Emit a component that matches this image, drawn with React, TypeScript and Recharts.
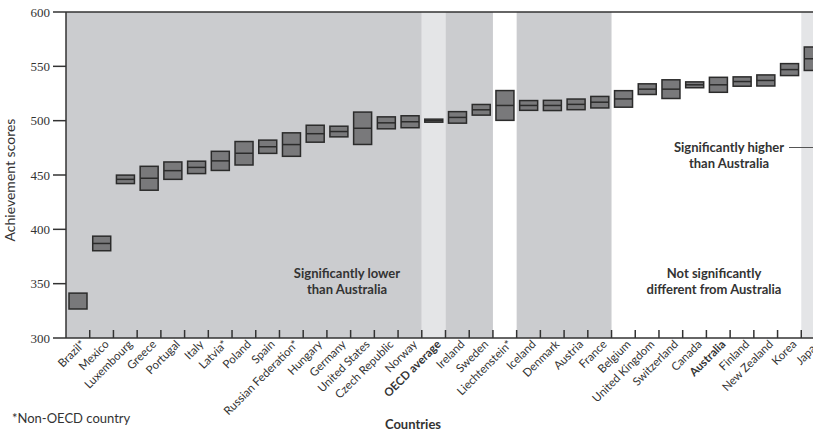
import { ComposedChart, Bar, XAxis, YAxis, ReferenceArea, ReferenceLine } from "recharts";

const countries = [
  "Brazil*", "Mexico", "Luxembourg", "Greece", "Portugal", "Italy", "Latvia*", "Poland",
  "Spain", "Russian Federation*", "Hungary", "Germany", "United States", "Czech Republic",
  "Norway", "OECD average", "Ireland", "Sweden", "Liechtenstein*", "Iceland", "Denmark",
  "Austria", "France", "Belgium", "United Kingdom", "Switzerland", "Canada", "Australia",
  "Finland", "New Zealand", "Korea", "Japan",
];

// mean line (none drawn for Brazil in the original)
const means: (number | null)[] = [
  null, 387, 446, 447, 454, 457, 463, 470, 476, 478, 488, 490, 493, 498, 499, 500,
  503, 510, 514, 514, 514, 515, 517, 520, 529, 529, 533, 533, 536, 537, 547, 557,
];

const lowerBounds = [
  326.7, 380.3, 442.1, 436.0, 446.0, 451.3, 454.2, 459.2, 469.9, 467.2, 480.2, 485.1,
  478.1, 492.5, 493.5, 498.6, 497.7, 505.1, 500.3, 509.5, 509.3, 510.1, 511.7, 512.4,
  524.1, 520.4, 530.3, 526.1, 531.7, 531.9, 541.5, 546.2,
];

const upperBounds = [
  341.3, 393.7, 449.9, 458.0, 462.0, 462.7, 471.8, 480.8, 482.1, 488.8, 495.8, 494.9,
  507.9, 503.5, 504.5, 501.4, 508.3, 514.9, 527.7, 518.5, 518.7, 519.9, 522.3, 527.6,
  533.9, 537.6, 535.7, 539.9, 540.3, 542.1, 552.5, 567.8,
];

const yTicks = [300, 350, 400, 450, 500, 550, 600];
const boldLabels = ["OECD average", "Australia"];

const DARK = "#cbcccf";
const LIGHT = "#e4e5e7";
const INK = "#333";

const shading = [
  { from: "Brazil*", to: "Norway", fill: DARK },
  { from: "OECD average", to: "OECD average", fill: LIGHT },
  { from: "Ireland", to: "Sweden", fill: DARK },
  { from: "Iceland", to: "France", fill: DARK },
  { from: "Japan", to: "Japan", fill: LIGHT },
];

const data = countries.map((c, i) => ({
  country: c,
  range: [lowerBounds[i], upperBounds[i]],
  mean: means[i],
  lo: lowerBounds[i],
  hi: upperBounds[i],
}));

const CHART_W = 825;
const CHART_H = 434;
const Y_W = 66;
const BAND = (CHART_W - Y_W) / countries.length;

function BoxShape(props: any) {
  const { x, y, width, height, payload } = props;
  const top = Math.min(y, y + height);
  const h = Math.abs(height);
  let meanY: number | null = null;
  if (payload.mean != null) {
    meanY = top + (h * (payload.hi - payload.mean)) / (payload.hi - payload.lo);
  }
  return (
    <g>
      <rect x={x} y={top} width={width} height={h} fill="#79797b" stroke="#2b2b2b" strokeWidth={1.5} />
      {meanY != null && (
        <line x1={x} x2={x + width} y1={meanY} y2={meanY} stroke="#2b2b2b" strokeWidth={1.5} />
      )}
    </g>
  );
}

function CountryTick(props: any) {
  const { x, y, payload, index } = props;
  const off = payload.offset || BAND / 2;
  const bold = boldLabels.includes(payload.value);
  return (
    <g>
      {index > 0 && (
        <line x1={x - off} x2={x - off} y1={y} y2={y - 8} stroke={INK} strokeWidth={1.5} />
      )}
      <text
        transform={`translate(${x + 8},${y + 7}) rotate(-45)`}
        textAnchor="end"
        fontSize={11.5}
        fontFamily="Lato"
        fontWeight={bold ? 700 : 400}
        fill={INK}
      >
        {payload.value}
      </text>
    </g>
  );
}

const note = {
  position: "absolute" as const,
  fontFamily: "Lato",
  color: INK,
  textAlign: "center" as const,
  fontSize: 13,
  fontWeight: 700,
  lineHeight: "16px",
  whiteSpace: "nowrap" as const,
};

export default function App() {
  return (
    <div style={{ position: "fixed", left: 0, top: 0, width: 813, height: 434, overflow: "hidden", background: "#fff" }}>
      <ComposedChart
        width={CHART_W}
        height={CHART_H}
        data={data}
        margin={{ top: 12, right: 0, left: 0, bottom: 0 }}
      >
        {shading.map((s) => (
          <ReferenceArea key={s.from} x1={s.from} x2={s.to} y1={300} y2={600} fill={s.fill} fillOpacity={1} stroke="none" />
        ))}
        <XAxis
          dataKey="country"
          interval={0}
          height={96}
          tickLine={false}
          tickSize={0}
          tickMargin={0}
          axisLine={{ stroke: INK, strokeWidth: 1.5 }}
          tick={<CountryTick />}
        />
        <YAxis
          type="number"
          domain={[300, 600]}
          ticks={yTicks}
          width={Y_W}
          tickSize={13}
          tickMargin={3}
          axisLine={{ stroke: INK, strokeWidth: 1.5 }}
          tickLine={{ stroke: INK, strokeWidth: 1.5 }}
          tick={{ fontSize: 13, fontFamily: "Liberation Serif", fill: INK }}
        />
        <ReferenceLine y={600} stroke={INK} strokeWidth={1.5} />
        <Bar dataKey="range" barSize={18} shape={<BoxShape />} isAnimationActive={false} />
      </ComposedChart>

      <div style={{ ...note, fontWeight: 400, fontSize: 14, left: 10, top: 180, transform: "translate(-50%,-50%) rotate(-90deg)" }}>
        Achievement scores
      </div>
      <div style={{ ...note, left: 247, top: 265, width: 200 }}>
        Significantly lower
        <br />
        than Australia
      </div>
      <div style={{ ...note, left: 614, top: 265, width: 200 }}>
        Not significantly
        <br />
        different from Australia
      </div>
      <div style={{ ...note, left: 629, top: 139, width: 200 }}>
        Significantly higher
        <br />
        than Australia
      </div>
      <div style={{ position: "absolute", left: 789, top: 147, width: 24, height: 0, borderTop: "1px solid #555" }} />
      <div style={{ ...note, left: 363, top: 416, width: 100 }}>Countries</div>
      <div style={{ ...note, fontWeight: 400, textAlign: "left", left: 12, top: 410 }}>*Non-OECD country</div>
    </div>
  );
}
